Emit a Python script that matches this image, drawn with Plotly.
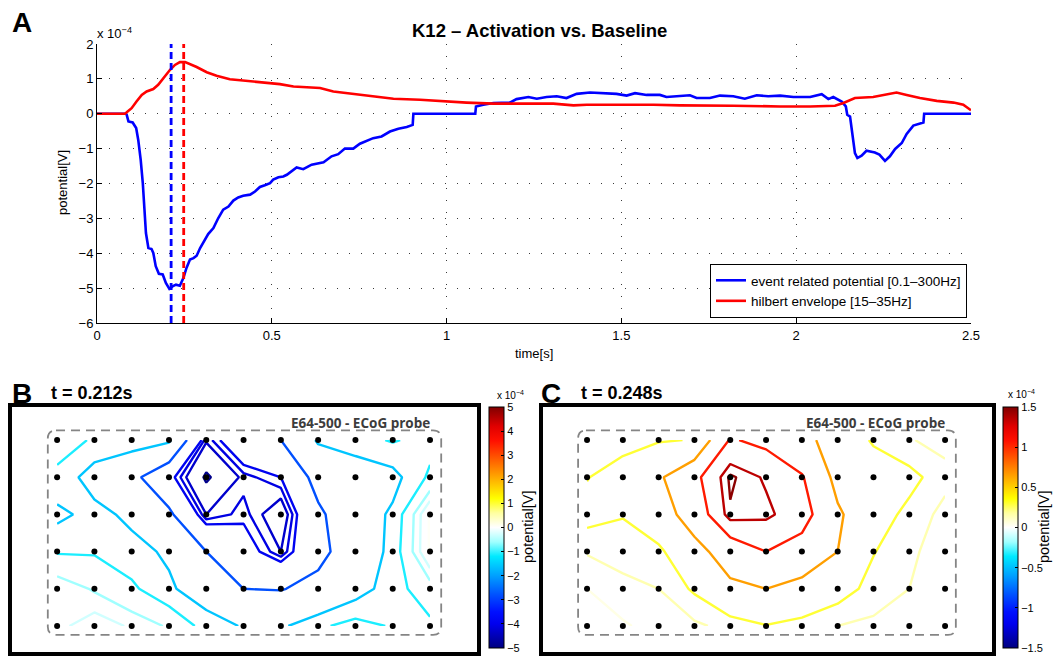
import plotly.graph_objects as go

W, H = 1063, 657
OFF = 8  # the page body adds an 8px margin; positions below are given in window pixels
def px(x): return (x - OFF) / W
def py(y): return 1 - (y - OFF) / H

FONT = "Liberation Sans, Arial, Helvetica, sans-serif"

# ---------------- Panel A data (units of 1e-4 V) ----------------
erp_t = [0, 0.083, 0.085, 0.09, 0.102, 0.112, 0.118, 0.125, 0.131, 0.135, 0.14, 0.147, 0.156, 0.161,
         0.168, 0.177, 0.188, 0.197, 0.207, 0.216, 0.226, 0.237, 0.247, 0.256, 0.266, 0.276, 0.285,
         0.295, 0.309, 0.318, 0.333, 0.347, 0.361, 0.376, 0.39, 0.404, 0.418, 0.438, 0.452, 0.466,
         0.48, 0.495, 0.504, 0.519, 0.533, 0.543, 0.571, 0.59, 0.614, 0.648, 0.671, 0.69, 0.709,
         0.733, 0.752, 0.776, 0.79, 0.814, 0.838, 0.862, 0.886, 0.903, 0.905, 1.082, 1.084, 1.105,
         1.134, 1.181, 1.2, 1.234, 1.258, 1.286, 1.315, 1.343, 1.372, 1.41, 1.448, 1.486, 1.515,
         1.539, 1.572, 1.61, 1.629, 1.668, 1.696, 1.715, 1.753, 1.782, 1.82, 1.853, 1.887, 1.92,
         1.954, 1.992, 2.04, 2.073, 2.092, 2.106, 2.13, 2.142, 2.146, 2.154, 2.161, 2.168, 2.175,
         2.187, 2.201, 2.225, 2.238, 2.254, 2.268, 2.283, 2.302, 2.316, 2.335, 2.354, 2.364, 2.366, 2.5]
erp_v = [0, 0, -0.03, -0.22, -0.25, -0.41, -0.75, -1.32, -1.99, -2.66, -3.42, -3.85, -3.88, -3.99,
         -4.37, -4.59, -4.61, -4.85, -5.02, -4.95, -4.90, -4.93, -4.71, -4.42, -4.18, -4.14, -4.07,
         -3.85, -3.61, -3.45, -3.28, -2.99, -2.75, -2.66, -2.49, -2.40, -2.35, -2.32, -2.23, -2.10,
         -2.05, -1.99, -1.89, -1.82, -1.80, -1.75, -1.54, -1.59, -1.46, -1.39, -1.22, -1.16, -1.00,
         -1.00, -0.86, -0.76, -0.70, -0.65, -0.51, -0.43, -0.38, -0.32, 0, 0, 0.21, 0.26,
         0.31, 0.32, 0.42, 0.48, 0.43, 0.48, 0.50, 0.45, 0.57, 0.61, 0.59, 0.57, 0.52,
         0.59, 0.54, 0.54, 0.48, 0.50, 0.53, 0.45, 0.45, 0.52, 0.50, 0.43, 0.53, 0.50,
         0.52, 0.48, 0.48, 0.56, 0.42, 0.48, 0.35, 0.21, -0.03, -0.08, -0.65, -1.13, -1.27,
         -1.20, -1.06, -1.11, -1.17, -1.35, -1.22, -1.01, -0.84, -0.58, -0.34, -0.27, -0.25, 0, 0]

env_t = [0, 0.08, 0.085, 0.099, 0.113, 0.128, 0.142, 0.161, 0.175, 0.19, 0.209, 0.223, 0.237, 0.252,
         0.266, 0.285, 0.314, 0.342, 0.38, 0.419, 0.457, 0.495, 0.523, 0.562, 0.638, 0.676, 0.762,
         0.848, 0.924, 1.0, 1.057, 1.134, 1.234, 1.305, 1.363, 1.401, 1.592, 1.668, 1.82, 1.92,
         1.954, 2.04, 2.111, 2.135, 2.168, 2.22, 2.258, 2.287, 2.316, 2.354, 2.402, 2.45, 2.478, 2.5]
env_v = [0, 0, 0.04, 0.16, 0.35, 0.54, 0.64, 0.71, 0.83, 1.02, 1.26, 1.40, 1.48, 1.48,
         1.43, 1.34, 1.19, 1.09, 0.99, 0.95, 0.93, 0.87, 0.85, 0.78, 0.74, 0.64, 0.54,
         0.43, 0.40, 0.35, 0.32, 0.29, 0.28, 0.29, 0.24, 0.26, 0.26, 0.24, 0.23, 0.21,
         0.21, 0.21, 0.23, 0.31, 0.45, 0.48, 0.56, 0.61, 0.54, 0.45, 0.37, 0.32, 0.26, 0.10]

t_erp_peak = 0.212
t_env_peak = 0.248

x_ticks = [0, 0.5, 1, 1.5, 2, 2.5]
x_ticktext = ["0", "0.5", "1", "1.5", "2", "2.5"]
y_ticks = [2, 1, 0, -1, -2, -3, -4, -5, -6]
y_ticktext = ["2", "1", "0", "\u22121", "\u22122", "\u22123", "\u22124", "\u22125", "\u22126"]

# ---------------- Panels B / C data: 6 x 11 electrode grid (1e-4 V) ----------------
grid_cols = list(range(11))
grid_rows = list(range(6))

map_b = [
    [-0.9, -1.15, -1.2, -1.45, -4.25, -3.3, -2.8, -1.5, -1.3, -1.05, -1.3],
    [-1.2, -1.9, -2.5, -3.7, -5.0, -4.2, -3.9, -2.4, -2.0, -1.8, -1.0],
    [-1.75, -1.4, -1.75, -2.6, -4.3, -4.0, -4.6, -3.0, -2.0, -1.5, 0.1],
    [-1.15, -1.15, -1.4, -1.7, -2.8, -3.6, -4.3, -3.1, -2.2, -1.4, 0.1],
    [-0.32, -0.65, -1.0, -1.5, -2.0, -2.8, -2.85, -2.5, -1.9, -1.3, -0.8],
    [-0.4, -0.1, -0.35, -0.65, -1.3, -1.65, -1.7, -1.2, -0.9, -1.15, -1.2],
]
levels_b = [-4.9, -4.3, -4.1, -3.9, -2.8, -1.6, -1.1, -0.6, -0.3, 0.05]

map_c = [
    [0.15, 0.21, 0.28, 0.31, 1.08, 0.96, 0.75, 0.5, 0.27, 0.16, 0.1],
    [0.29, 0.42, 0.6, 0.95, 1.5, 1.32, 1.08, 0.54, 0.45, 0.36, 0.2],
    [0.38, 0.31, 0.5, 0.8, 1.45, 1.4, 1.2, 0.7, 0.4, 0.25, 0.1],
    [0.16, 0.22, 0.25, 0.55, 0.8, 1.05, 0.9, 0.65, 0.31, 0.17, 0.1],
    [0.05, 0.1, 0.15, 0.33, 0.59, 0.65, 0.54, 0.4, 0.23, 0.15, 0.12],
    [0.02, 0.04, 0.08, 0.12, 0.2, 0.29, 0.23, 0.15, 0.12, 0.1, 0.06],
]
levels_c = [0.05, 0.15, 0.3, 0.65, 1.05, 1.35, 1.47]

cbar_b_ticks = [-5, -4, -3, -2, -1, 0, 1, 2, 3, 4, 5]
cbar_b_text = ["\u22125", "\u22124", "\u22123", "\u22122", "\u22121", "0", "1", "2", "3", "4", "5"]
cbar_c_ticks = [-1.5, -1, -0.5, 0, 0.5, 1, 1.5]
cbar_c_text = ["\u22121.5", "\u22121", "\u22120.5", "0", "0.5", "1", "1.5"]

CSCALE = [(0.0, '#000080'), (0.1, '#0000ee'), (0.15, '#0010ff'), (0.22, '#0050ff'), (0.3, '#00a0ff'),
          (0.38, '#00eaff'), (0.44, '#a0ffff'), (0.5, '#ffffff'), (0.56, '#ffffa0'), (0.62, '#ffff00'),
          (0.7, '#ffb000'), (0.78, '#ff6000'), (0.86, '#ff1000'), (0.92, '#e00000'), (1.0, '#800000')]


def hex2rgb(h):
    return tuple(int(h[i:i + 2], 16) for i in (1, 3, 5))


def cs_color(frac):
    frac = min(max(frac, 0.0), 1.0)
    for (f0, c0), (f1, c1) in zip(CSCALE[:-1], CSCALE[1:]):
        if f0 <= frac <= f1:
            t = (frac - f0) / (f1 - f0) if f1 > f0 else 0
            a, b = hex2rgb(c0), hex2rgb(c1)
            return 'rgb(%d,%d,%d)' % tuple(round(a[i] + (b[i] - a[i]) * t) for i in range(3))
    return CSCALE[-1][1]


fig = go.Figure()

# ---------------- Panel A traces ----------------
fig.add_trace(go.Scatter(x=erp_t, y=erp_v, mode='lines', name='event related potential [0.1\u2013300Hz]',
                         line=dict(color='#0000ff', width=2.6), xaxis='x', yaxis='y'))
fig.add_trace(go.Scatter(x=env_t, y=env_v, mode='lines', name='hilbert envelope [15\u201335Hz]',
                         line=dict(color='#ff0000', width=2.6), xaxis='x', yaxis='y'))
fig.add_trace(go.Scatter(x=[t_erp_peak, t_erp_peak], y=[y_ticks[-1], y_ticks[0]], mode='lines',
                         line=dict(color='#0000ff', width=2.8, dash='7px,4px'), showlegend=False,
                         hoverinfo='skip', xaxis='x', yaxis='y'))
fig.add_trace(go.Scatter(x=[t_env_peak, t_env_peak], y=[y_ticks[-1], y_ticks[0]], mode='lines',
                         line=dict(color='#ff0000', width=2.8, dash='7px,4px'), showlegend=False,
                         hoverinfo='skip', xaxis='x', yaxis='y'))

# ---------------- Panels B / C ----------------
elec_x = [c for r in grid_rows for c in grid_cols]
elec_y = [r for r in grid_rows for c in grid_cols]


def add_map(zgrid, levels, zmax, xa, ya, cb_x, cb_ticks, cb_text):
    for L in levels:
        fig.add_trace(go.Contour(
            z=zgrid, x=grid_cols, y=grid_rows, xaxis=xa, yaxis=ya,
            autocontour=False,
            contours=dict(start=L, end=L, size=1, coloring='none', showlabels=False),
            line=dict(color=cs_color((L + zmax) / (2 * zmax)), width=2.4, smoothing=0),
            showscale=False, hoverinfo='skip', showlegend=False))
    fig.add_trace(go.Scatter(
        x=elec_x, y=elec_y, mode='markers', xaxis=xa, yaxis=ya,
        marker=dict(color='black', size=6), showlegend=False, hoverinfo='skip'))
    fig.add_trace(go.Scatter(
        x=[grid_cols[0]], y=[grid_rows[0]], mode='markers', xaxis=xa, yaxis=ya,
        marker=dict(color=[0], colorscale=[[f, c] for f, c in CSCALE], cmin=-zmax, cmax=zmax,
                    opacity=0, size=1, showscale=True,
                    colorbar=dict(x=cb_x, xanchor='left', y=py(527.5), yanchor='middle',
                                  len=241 / H, lenmode='fraction', thickness=15, thicknessmode='pixels',
                                  xpad=0, ypad=0, outlinecolor='black', outlinewidth=1,
                                  ticks='inside', ticklen=3, tickcolor='black',
                                  tickvals=cb_ticks, ticktext=cb_text,
                                  tickfont=dict(size=11, family=FONT, color='black'))),
        showlegend=False, hoverinfo='skip'))


add_map(map_b, levels_b, 5.0, 'x2', 'y2', px(489), cbar_b_ticks, cbar_b_text)
add_map(map_c, levels_c, 1.5, 'x3', 'y3', px(1003), cbar_c_ticks, cbar_c_text)


def rounded_path(x0, y0, x1, y1, r):
    return (f"M {x0 + r},{y0} L {x1 - r},{y0} Q {x1},{y0} {x1},{y0 + r} "
            f"L {x1},{y1 - r} Q {x1},{y1} {x1 - r},{y1} L {x0 + r},{y1} Q {x0},{y1} {x0},{y1 - r} "
            f"L {x0},{y0 + r} Q {x0},{y0} {x0 + r},{y0} Z")


shapes = []
for xa, ya in (('x2', 'y2'), ('x3', 'y3')):
    shapes.append(dict(type='path', xref=xa, yref=ya, path=rounded_path(-0.25, -0.26, 10.3, 5.24, 0.22),
                       line=dict(color='#858585', width=1.8, dash='9px,6px'), layer='below'))

ax_common = dict(showline=True, linecolor='black', linewidth=1, ticks='inside', ticklen=5,
                 tickcolor='black', tickfont=dict(size=13, family=FONT, color='black'),
                 showgrid=True, gridcolor='#3a3a3a', gridwidth=1, griddash='1.3px,10.7px',
                 zeroline=False, mirror=False)
box_common = dict(showline=True, mirror=True, linecolor='black', linewidth=3.5, ticks='',
                  showticklabels=False, showgrid=False, zeroline=False)

annotations = [
    dict(text='<b>A</b>', x=px(22), y=py(23), font=dict(size=28)),
    dict(text='<b>K12 \u2013 Activation vs. Baseline</b>', x=px(539), y=py(31), font=dict(size=18.5)),
    dict(text='x 10<sup>\u22124</sup>', x=px(95), y=py(33), xanchor='left', font=dict(size=13)),
    dict(text='potential[V]', x=px(63), y=py(183), textangle=-90, font=dict(size=13)),
    dict(text='time[s]', x=px(534), y=py(353), font=dict(size=13)),
    dict(text='<b>B</b>', x=px(22), y=py(393), font=dict(size=28)),
    dict(text='<b>t = 0.212s</b>', x=px(49), y=py(393), xanchor='left', font=dict(size=18)),
    dict(text='<b>C</b>', x=px(551), y=py(393), font=dict(size=28)),
    dict(text='<b>t = 0.248s</b>', x=px(579), y=py(393), xanchor='left', font=dict(size=18)),
    dict(text='x 10<sup>\u22124</sup>', x=px(495), y=py(395), xanchor='left', font=dict(size=10)),
    dict(text='x 10<sup>\u22124</sup>', x=px(1006), y=py(394), xanchor='left', font=dict(size=10)),
    dict(text='potential[V]', x=px(528), y=py(527), textangle=-90, font=dict(size=14.5)),
    dict(text='potential[V]', x=px(1044), y=py(527), textangle=-90, font=dict(size=14.5)),
]
for a in annotations:
    a.update(xref='paper', yref='paper', showarrow=False)
    a.setdefault('xanchor', 'center')
    a['yanchor'] = 'middle'
    a['font'] = dict(family=FONT, color='black', **a['font'])
for xa, ya in (('x2', 'y2'), ('x3', 'y3')):
    annotations.append(dict(text='<b>E64-500 - ECoG probe</b>', xref=xa, yref=ya, x=10.05, y=-0.47,
                            xanchor='right', yanchor='middle', showarrow=False,
                            font=dict(size=13.5, family='Open Sans, sans-serif', color='#3c3c3c')))

fig.update_layout(
    width=W, height=H, template='none',
    margin=dict(l=0, r=0, t=0, b=0),
    paper_bgcolor='white', plot_bgcolor='white',
    font=dict(family=FONT, color='black'),
    xaxis=dict(domain=[px(97), px(971)], range=[0, 2.5], anchor='y',
               tickvals=x_ticks, ticktext=x_ticktext, **ax_common),
    yaxis=dict(domain=[py(323), py(44)], range=[-6, 2], anchor='x',
               tickvals=y_ticks, ticktext=y_ticktext, **ax_common),
    xaxis2=dict(domain=[px(12), px(477)], range=[-1.21, 11.26], anchor='y2', **box_common),
    yaxis2=dict(domain=[py(652), py(407)], range=[5.70, -0.89], anchor='x2', **box_common),
    xaxis3=dict(domain=[px(543), px(992)], range=[-1.23, 11.31], anchor='y3', **box_common),
    yaxis3=dict(domain=[py(652), py(407)], range=[5.70, -0.89], anchor='x3', **box_common),
    legend=dict(x=px(967), xanchor='right', y=py(318), yanchor='bottom', bgcolor='white',
                bordercolor='black', borderwidth=1, font=dict(size=13.5, family=FONT, color='black'),
                tracegroupgap=0),
    shapes=shapes,
    annotations=annotations,
    showlegend=True,
)

fig.write_html("out.html")
